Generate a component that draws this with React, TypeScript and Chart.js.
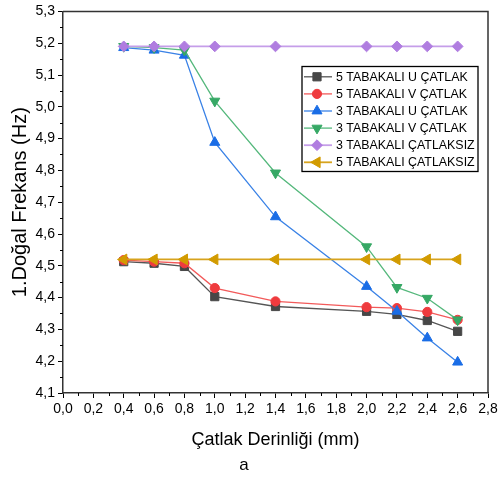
import React, { useEffect, useRef } from 'react';
import { Chart, registerables } from 'chart.js';
import { drawPoint } from 'chart.js/helpers';

Chart.register(...registerables);

// ---- data ----
const crackDepth = [0.4, 0.6, 0.8, 1.0, 1.4, 2.0, 2.2, 2.4, 2.6];
const fiveLayerU = [4.513, 4.508, 4.498, 4.403, 4.372, 4.357, 4.347, 4.328, 4.294];
const fiveLayerV = [4.518, 4.513, 4.508, 4.43, 4.388, 4.37, 4.367, 4.355, 4.33];
const threeLayerU = [5.186, 5.178, 5.162, 4.888, 4.654, 4.435, 4.357, 4.273, 4.197];
const threeLayerV = [5.19, 5.186, 5.178, 5.018, 4.792, 4.56, 4.432, 4.398, 4.33];
const threeLayerIntact = [5.19, 5.19, 5.19, 5.19, 5.19, 5.19, 5.19, 5.19, 5.19];
const fiveLayerIntact = [4.52, 4.52, 4.52, 4.52, 4.52, 4.52, 4.52, 4.52, 4.52];
const seriesLabels = [
  '5 TABAKALI U ÇATLAK',
  '5 TABAKALI V ÇATLAK',
  '3 TABAKALI U ÇATLAK',
  '3 TABAKALI V ÇATLAK',
  '3 TABAKALI ÇATLAKSIZ',
  '5 TABAKALI ÇATLAKSIZ',
];
const xTitle = 'Çatlak Derinliği (mm)';
const yTitle = '1.Doğal Frekans (Hz)';
const captionText = 'a';

const FONT = "'Liberation Sans', Arial, sans-serif";

export default function App() {
  const ref = useRef<HTMLCanvasElement>(null);

  useEffect(() => {
    if (!ref.current) return;
    const pts = (vals: number[]) => crackDepth.map((x, i) => ({ x, y: vals[i] }));
    const styles = [
      { line: '#555555', fill: '#474747', style: 'rect', rot: 0, r: 5.8, lw: 1.3 },
      { line: '#f25a5a', fill: '#ef3b3e', style: 'circle', rot: 0, r: 4.6, lw: 1.3 },
      { line: '#3a82e6', fill: '#1a6de6', style: 'triangle', rot: 0, r: 5.8, lw: 1.3 },
      { line: '#55b87c', fill: '#36a865', style: 'triangle', rot: 180, r: 5.8, lw: 1.3 },
      { line: '#c59ee9', fill: '#b07de0', style: 'rectRot', rot: 0, r: 5.4, lw: 1.8 },
      { line: '#d7a31e', fill: '#d29b00', style: 'triangle', rot: -90, r: 6.2, lw: 1.8 },
    ];
    const values = [fiveLayerU, fiveLayerV, threeLayerU, threeLayerV, threeLayerIntact, fiveLayerIntact];
    const datasets = values.map((v, i) => ({
      label: seriesLabels[i],
      data: pts(v),
      borderColor: styles[i].line,
      backgroundColor: styles[i].fill,
      borderWidth: styles[i].lw,
      pointStyle: styles[i].style as any,
      pointRotation: styles[i].rot,
      pointRadius: styles[i].r,
      pointBorderColor: styles[i].fill,
      pointBackgroundColor: styles[i].fill,
      pointBorderWidth: 1,
      tension: 0,
      order: 6 - i,
    }));

    const decor = {
      id: 'decor',
      afterDraw(chart: any) {
        const { ctx, chartArea: a, scales } = chart;
        const xs = scales.x;
        const ys = scales.y;
        ctx.save();
        // frame top/right
        ctx.strokeStyle = '#333';
        ctx.lineWidth = 1.5;
        ctx.beginPath();
        ctx.moveTo(a.left, a.top);
        ctx.lineTo(a.right, a.top);
        ctx.lineTo(a.right, a.bottom);
        ctx.stroke();
        // minor ticks
        ctx.strokeStyle = '#000';
        ctx.lineWidth = 1;
        ctx.beginPath();
        for (let k = 0; k < 12; k++) {
          const v = 4.15 + k * 0.1;
          const py = Math.round(ys.getPixelForValue(v)) + 0.5;
          ctx.moveTo(a.left, py);
          ctx.lineTo(a.left - 3, py);
        }
        for (let k = 0; k < 14; k++) {
          const v = 0.1 + k * 0.2;
          const px = Math.round(xs.getPixelForValue(v)) + 0.5;
          ctx.moveTo(px, a.bottom);
          ctx.lineTo(px, a.bottom + 3);
        }
        ctx.stroke();
        // legend
        const bx = 302, by = 66.5, bw = 176, bh = 105;
        ctx.fillStyle = '#fff';
        ctx.fillRect(bx, by, bw, bh);
        ctx.strokeStyle = '#000';
        ctx.lineWidth = 1.3;
        ctx.strokeRect(bx, by, bw, bh);
        ctx.font = `12.4px ${FONT}`;
        ctx.textBaseline = 'middle';
        ctx.textAlign = 'left';
        chart.data.datasets.forEach((ds: any, i: number) => {
          const ry = 76.8 + i * 17.1;
          ctx.strokeStyle = ds.borderColor;
          ctx.lineWidth = ds.borderWidth;
          ctx.beginPath();
          ctx.moveTo(bx + 2, ry);
          ctx.lineTo(bx + 30, ry);
          ctx.stroke();
          ctx.fillStyle = ds.pointBackgroundColor;
          ctx.strokeStyle = ds.pointBorderColor;
          ctx.lineWidth = 1;
          drawPoint(ctx, { pointStyle: ds.pointStyle, rotation: ds.pointRotation, radius: ds.pointRadius, borderWidth: 1 } as any, bx + 15, ry);
          ctx.fillStyle = '#000';
          ctx.fillText(ds.label, bx + 34, ry + 0.5);
        });
        ctx.restore();
      },
    };

    const fmt = (v: any) => Number(v).toFixed(1).replace('.', ',');

    const chart = new Chart(ref.current, {
      type: 'line',
      data: { datasets: datasets as any },
      options: {
        animation: false,
        responsive: false,
        layout: { padding: { top: 10, right: 13, left: 0, bottom: 0 } },
        plugins: {
          legend: { display: false },
          tooltip: { enabled: false },
          title: {
            display: true,
            text: captionText,
            position: 'bottom',
            color: '#000',
            font: { family: FONT, size: 17, weight: 'normal' as any },
            padding: { top: 0, bottom: 4 },
          },
        },
        scales: {
          x: {
            type: 'linear',
            min: 0,
            max: 2.8,
            afterFit: (s: any) => { s.height = 62.6; },
            ticks: { stepSize: 0.2, callback: fmt, color: '#000', font: { family: FONT, size: 14 }, padding: 3, maxRotation: 0, autoSkip: false },
            grid: { display: true, drawOnChartArea: false, drawTicks: true, tickLength: 5, color: '#000', lineWidth: 1 },
            border: { display: true, color: '#333', width: 1.5 },
            title: { display: true, text: xTitle, color: '#000', font: { family: FONT, size: 18 }, padding: { top: 0, bottom: 4.8 } },
          },
          y: {
            type: 'linear',
            min: 4.1,
            max: 5.3,
            afterFit: (s: any) => { s.width = 63; },
            ticks: { stepSize: 0.1, callback: fmt, color: '#000', font: { family: FONT, size: 14 }, padding: 3, autoSkip: false },
            grid: { display: true, drawOnChartArea: false, drawTicks: true, tickLength: 5, color: '#000', lineWidth: 1 },
            border: { display: true, color: '#333', width: 1.5 },
            title: { display: true, text: yTitle, color: '#000', font: { family: FONT, size: 20 }, padding: { top: 8, bottom: 0 } },
          },
        },
      },
      plugins: [decor],
    });
    return () => chart.destroy();
  }, []);

  return (
    <div style={{ position: 'fixed', left: 0, top: 0, width: 501, height: 480, background: '#fff' }}>
      <canvas ref={ref} width={501} height={480} style={{ width: 501, height: 480, display: 'block' }} />
    </div>
  );
}
